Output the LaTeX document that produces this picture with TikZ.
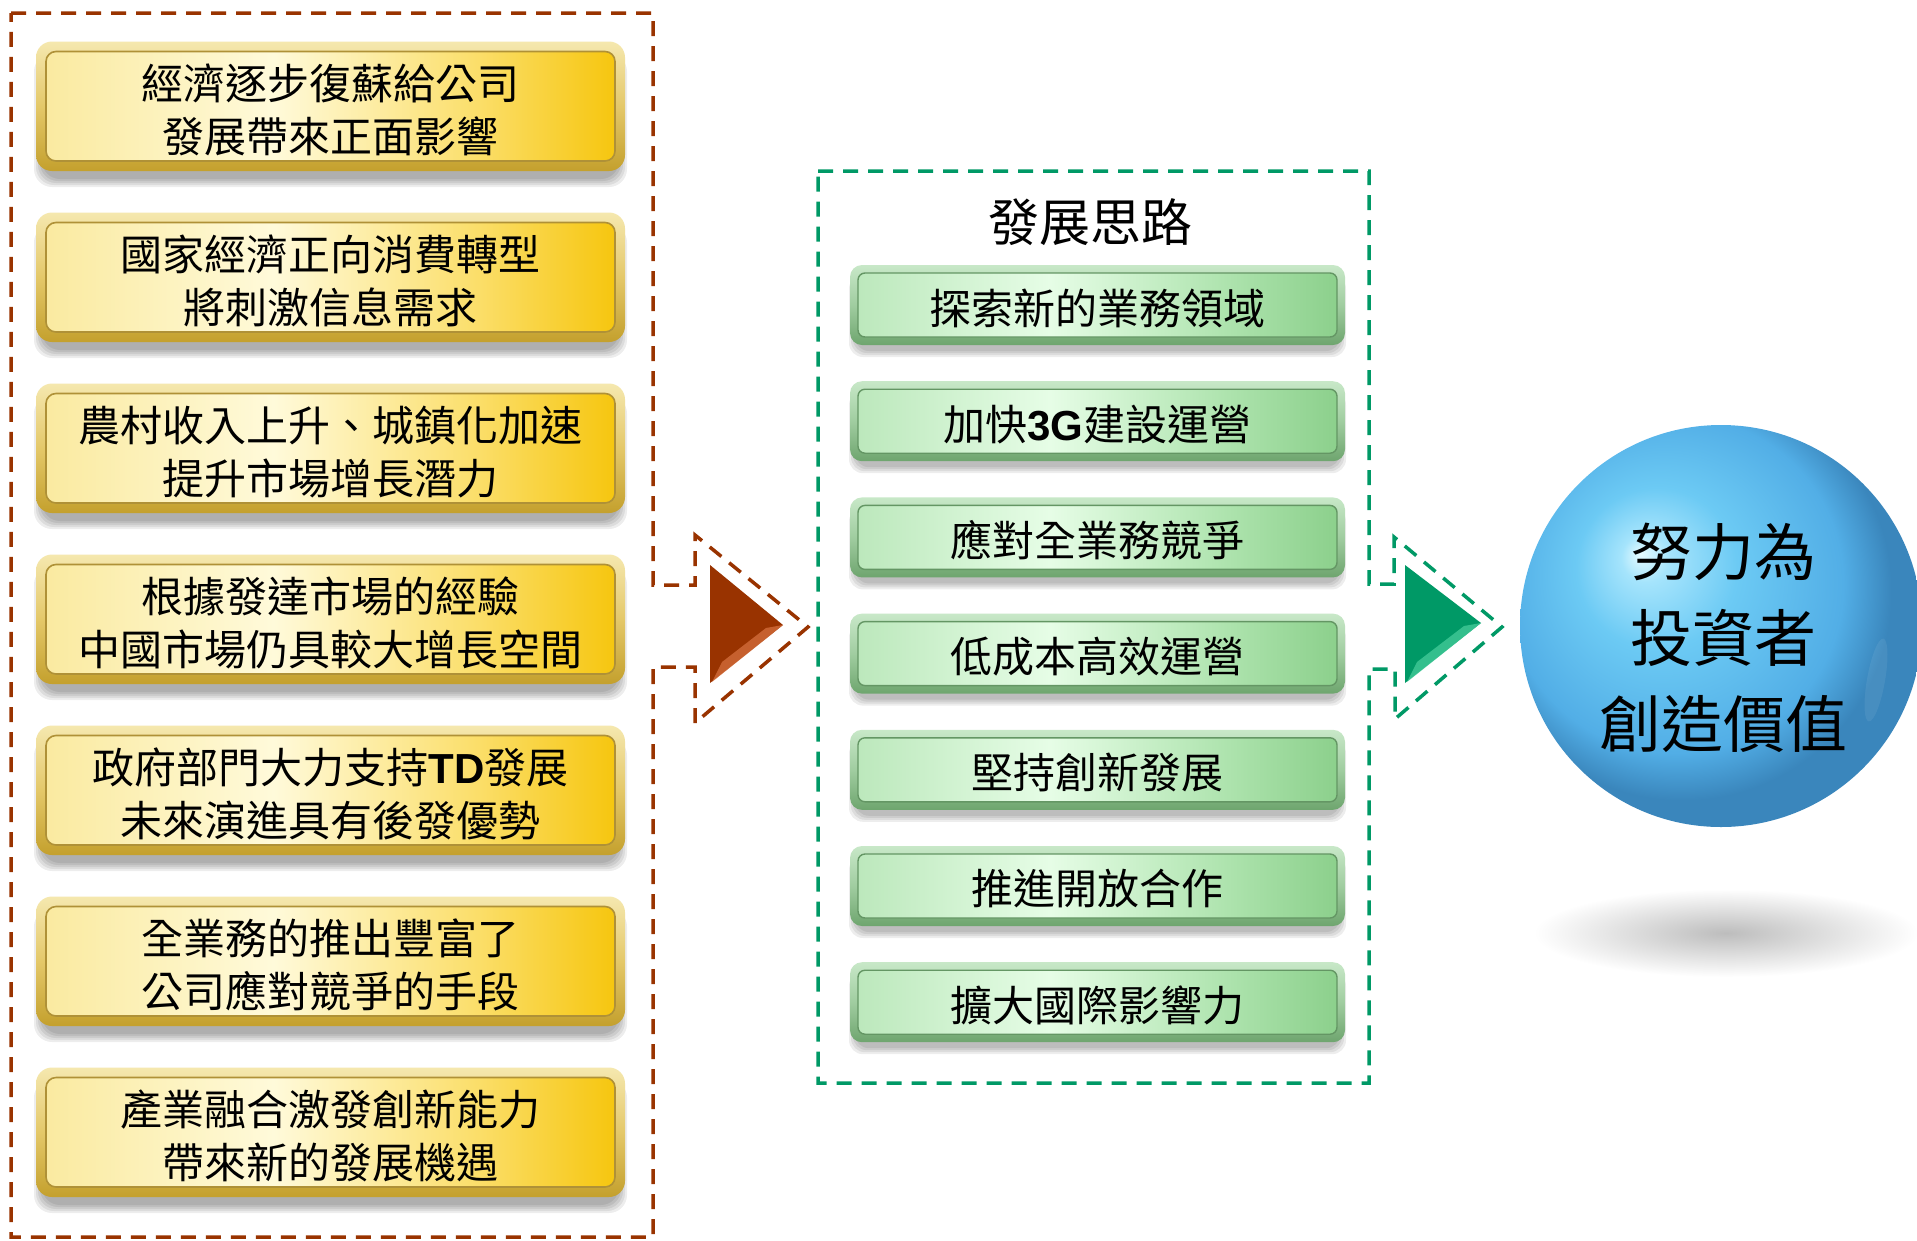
\documentclass[tikz,border=0pt]{standalone}
\usepackage{fontspec}
\newfontfamily\cjk{Noto Sans CJK TC}
\newfontfamily\arial{Liberation Sans}
\definecolor{brn}{RGB}{153,51,0}
\definecolor{brnlight}{RGB}{214,112,62}
\definecolor{grn}{RGB}{0,153,102}
\definecolor{grnlight}{RGB}{70,205,155}
\definecolor{gp0}{RGB}{250,234,160}
\definecolor{gp1}{RGB}{255,250,218}
\definecolor{gp2}{RGB}{251,222,105}
\definecolor{gp3}{RGB}{246,198,15}
\definecolor{gr0}{RGB}{245,232,175}
\definecolor{gr1}{RGB}{228,200,105}
\definecolor{gr2}{RGB}{196,160,45}
\definecolor{goldline}{RGB}{175,145,55}
\definecolor{np0}{RGB}{188,232,188}
\definecolor{np1}{RGB}{230,253,230}
\definecolor{np2}{RGB}{175,228,175}
\definecolor{np3}{RGB}{140,208,140}
\definecolor{nr0}{RGB}{200,232,200}
\definecolor{nr1}{RGB}{160,205,160}
\definecolor{nr2}{RGB}{110,165,110}
\definecolor{greenline}{RGB}{100,150,100}
\definecolor{bl0}{RGB}{230,251,255}
\definecolor{bl1}{RGB}{165,228,252}
\definecolor{bl2}{RGB}{108,202,244}
\definecolor{bl3}{RGB}{82,174,230}
\definecolor{bl4}{RGB}{58,134,188}
\pgfdeclarehorizontalshading{goldpanel}{100bp}{color(0bp)=(gp0); color(25bp)=(gp0); color(45bp)=(gp1); color(63bp)=(gp2); color(75bp)=(gp3); color(100bp)=(gp3)}
\pgfdeclareverticalshading{goldrim}{100bp}{color(0bp)=(gr2); color(25bp)=(gr2); color(50bp)=(gr1); color(75bp)=(gr0); color(100bp)=(gr0)}
\pgfdeclarehorizontalshading{greenpanel}{100bp}{color(0bp)=(np0); color(25bp)=(np0); color(45bp)=(np1); color(63bp)=(np2); color(75bp)=(np3); color(100bp)=(np3)}
\pgfdeclareverticalshading{greenrim}{100bp}{color(0bp)=(nr2); color(25bp)=(nr2); color(50bp)=(nr1); color(75bp)=(nr0); color(100bp)=(nr0)}
\pgfdeclareradialshading{blueball}{\pgfpoint{-10bp}{9bp}}{color(0bp)=(bl0); color(3bp)=(bl1); color(10bp)=(bl2); color(21bp)=(bl3); color(26bp)=(bl4); color(50bp)=(bl4)}
\newcommand\goldbox[4]{%
  \foreach \e in {0,2,4,6,8}{\fill[black,opacity=0.07,rounded corners=18pt] ({42-\e},{#2+20-\e}) rectangle ({619+\e},{#2+137.5+\e});}
  \shade[shading=goldrim,rounded corners=16pt] (36,#2) rectangle (625,{#2+129.5});
  \shadedraw[shading=goldpanel,draw=goldline,line width=1.6pt,rounded corners=10pt] (46,{#2+10}) rectangle (615,{#2+119.5});
  \node[goldtxt] (#1) at (330.5,{#2+68}) {#3\\#4};
}
\newcommand\greenbox[3]{%
  \foreach \e in {0,2,4,6}{\fill[black,opacity=0.07,rounded corners=14pt] ({855-\e},{#2+16-\e}) rectangle ({1340+\e},{#2+86+\e});}
  \shade[shading=greenrim,rounded corners=12pt] (850,#2) rectangle (1345,{#2+80});
  \shadedraw[shading=greenpanel,draw=greenline,line width=1.4pt,rounded corners=7pt] (858,{#2+8}) rectangle (1337,{#2+72});
  \node[greentxt] (#1) at (1097.5,{#2+43}) {#3};
}
\begin{document}
\begin{tikzpicture}[x=1pt,y=-1pt,
  goldtxt/.style={font=\cjk\fontsize{42}{53}\selectfont, align=center, inner sep=0pt, text=black},
  greentxt/.style={font=\cjk\fontsize{42}{50}\selectfont, inner sep=0pt, text=black},
  frame/.style={line width=3.5pt, dash pattern=on 15pt off 10pt}]
\clip (0,0) rectangle (1917,1240);
\fill[white] (0,0) rectangle (1917,1240);
% frames with arrow notches
\draw[frame,brn] (11,13) -- (653,13) -- (653,585) -- (695,585) -- (695,535) -- (808,627) -- (695,723) -- (695,667) -- (653,667) -- (653,1237) -- (11,1237) -- cycle;
\draw[frame,grn] (818,171) -- (1369,171) -- (1369,584) -- (1394,584) -- (1394,537) -- (1502,627) -- (1395,719) -- (1395,669) -- (1369,669) -- (1369,1083) -- (818,1083) -- cycle;
% triangles
\fill[brn] (710,565) -- (783,625) -- (710,683) -- cycle;
\fill[brnlight,opacity=0.75] (783,625) -- (712,682) -- (722,662) -- (766,628) -- cycle;
\fill[grn] (1405,565) -- (1481,623) -- (1405,683) -- cycle;
\fill[grnlight,opacity=0.75] (1481,623) -- (1407,682) -- (1417,662) -- (1464,626) -- cycle;
% gold boxes
\goldbox{g1}{41.5}{經濟逐步復蘇給公司}{發展帶來正面影響}
\goldbox{g2}{212.5}{國家經濟正向消費轉型}{將刺激信息需求}
\goldbox{g3}{383.5}{農村收入上升、城鎮化加速}{提升市場增長潛力}
\goldbox{g4}{554.5}{根據發達市場的經驗}{中國市場仍具較大增長空間}
\goldbox{g5}{725.5}{政府部門大力支持{\arial\bfseries TD}發展}{未來演進具有後發優勢}
\goldbox{g6}{896.5}{全業務的推出豐富了}{公司應對競爭的手段}
\goldbox{g7}{1067.5}{產業融合激發創新能力}{帶來新的發展機遇}
% green column
\node[font=\cjk\fontsize{51}{60}\selectfont, inner sep=0pt] (title) at (1090,222) {發展思路};
\greenbox{s1}{265}{探索新的業務領域}
\greenbox{s2}{381.2}{加快{\arial\bfseries 3G}建設運營}
\greenbox{s3}{497.4}{應對全業務競爭}
\greenbox{s4}{613.6}{低成本高效運營}
\greenbox{s5}{729.8}{堅持創新發展}
\greenbox{s6}{846}{推進開放合作}
\greenbox{s7}{962.2}{擴大國際影響力}
% ball
\shade[inner color=black!26, outer color=white] (1726,933) ellipse (192 and 44);
\node[circle, minimum size=402pt, inner sep=0pt, shading=blueball] (ball) at (1721,626) {};
\fill[white,opacity=0.07,rotate around={-10:(1876,680)}] (1876,680) ellipse (9 and 42);
\node[font=\cjk\fontsize{62}{86}\selectfont, align=center, inner sep=0pt] (balltext) at (1723,638) {努力為\\投資者\\創造價值};
\end{tikzpicture}
\end{document}
